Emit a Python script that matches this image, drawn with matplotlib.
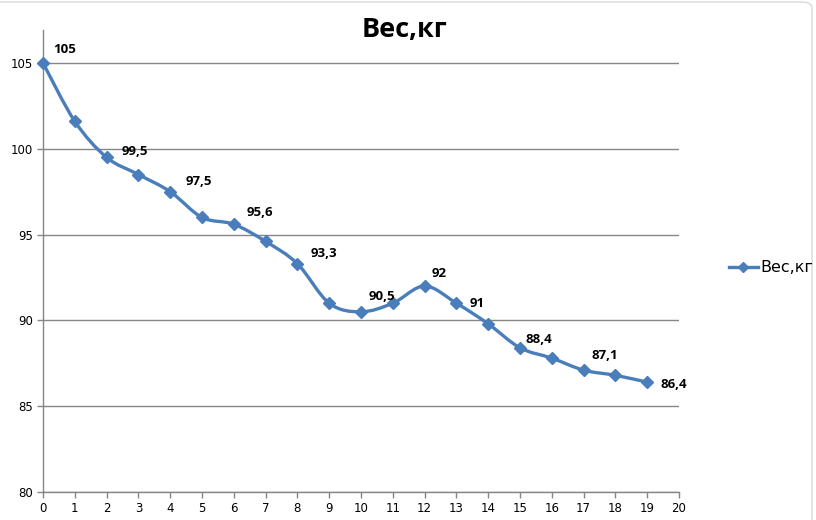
import numpy as np
import matplotlib
matplotlib.use("Agg")
import matplotlib.pyplot as plt
from matplotlib.path import Path
from matplotlib.patches import PathPatch, FancyBboxPatch
from matplotlib.lines import Line2D

# data
days = list(range(20))
weight = [105, 101.6, 99.5, 98.5, 97.5, 96, 95.6, 94.6, 93.3, 91,
          90.5, 91, 92, 91, 89.8, 88.4, 87.8, 87.1, 86.8, 86.4]
labelled = [0, 2, 4, 6, 8, 10, 12, 13, 15, 17, 19]
label_text = ["105", "99,5", "97,5", "95,6", "93,3", "90,5", "92", "91", "88,4", "87,1", "86,4"]
series_name = "Вес,кг"

# pixel offsets of each label from its point (left edge, vertical centre)
label_offsets = [(10, 13), (15, 6), (15, 10), (13, 12), (13, 10), (8, 15),
                 (7, 13), (13, 0), (6, 8), (8, 15), (13, -2)]

blue = "#4A7EBB"
grey = "#868686"


def smooth_path(x, y):
    # Excel-like smoothed line: cubic bezier through every point
    pts = np.column_stack([x, y]).astype(float)
    ext = np.vstack([pts[0], pts, pts[-1]])
    verts = [pts[0]]
    codes = [Path.MOVETO]
    for i in range(len(pts) - 1):
        p0, p1, p2, p3 = ext[i], ext[i + 1], ext[i + 2], ext[i + 3]
        verts += [p1 + (p2 - p0) / 6, p2 - (p3 - p1) / 6, p2]
        codes += [Path.CURVE4] * 3
    return Path(verts, codes)


fig = plt.figure(figsize=(8.16, 5.2), dpi=100)
fig.patches.append(FancyBboxPatch((-0.05, -0.05), 0.05 + 812 / 816, 0.05 + 518 / 520,
                                  boxstyle="round,pad=0,rounding_size=0.012",
                                  transform=fig.transFigure, facecolor="white",
                                  edgecolor="#d9d9d9", linewidth=1, zorder=-5))

ax = fig.add_axes([43 / 816, 28 / 520, 636 / 816, 462 / 520])
ax.set_facecolor("none")
ax.set_xlim(0, 20)
ax.set_ylim(80, 106.92)
ax.set_xticks(range(0, 21))
ax.set_yticks(range(80, 106, 5))
ax.yaxis.grid(True, color=grey, linewidth=1)
ax.set_axisbelow(True)
for side in ["top", "right"]:
    ax.spines[side].set_visible(False)
for side in ["left", "bottom"]:
    ax.spines[side].set_color(grey)
    ax.spines[side].set_linewidth(1)
ax.tick_params(axis="both", direction="out", length=4, width=1, color=grey,
               labelsize=8.5, labelcolor="black", pad=3)

ax.add_patch(PathPatch(smooth_path(days, weight), facecolor="none",
                       edgecolor=blue, linewidth=2.4, zorder=3))
ax.plot(days, weight, linestyle="none", marker="D", markersize=6.5,
        color=blue, zorder=4, clip_on=False)

for idx, txt, (dx, dy) in zip(labelled, label_text, label_offsets):
    ax.annotate(txt, (days[idx], weight[idx]), xytext=(dx * 0.72, dy * 0.72),
                textcoords="offset points", ha="left", va="center",
                fontsize=9.5, fontweight="bold", family="Open Sans", zorder=5)

fig.text(405 / 816, 1 - 30 / 520, series_name, ha="center", va="center",
         fontsize=19.5, fontweight="bold", family="Open Sans")

handle = Line2D([], [], color=blue, linewidth=2.4, marker="D", markersize=5)
fig.legend([handle], [series_name], loc="center left",
           bbox_to_anchor=(721 / 816, 1 - 268 / 520), frameon=False,
           fontsize=11.5, handlelength=1.8, handletextpad=0.15, borderpad=0)

fig.savefig("out.png", dpi=100)
